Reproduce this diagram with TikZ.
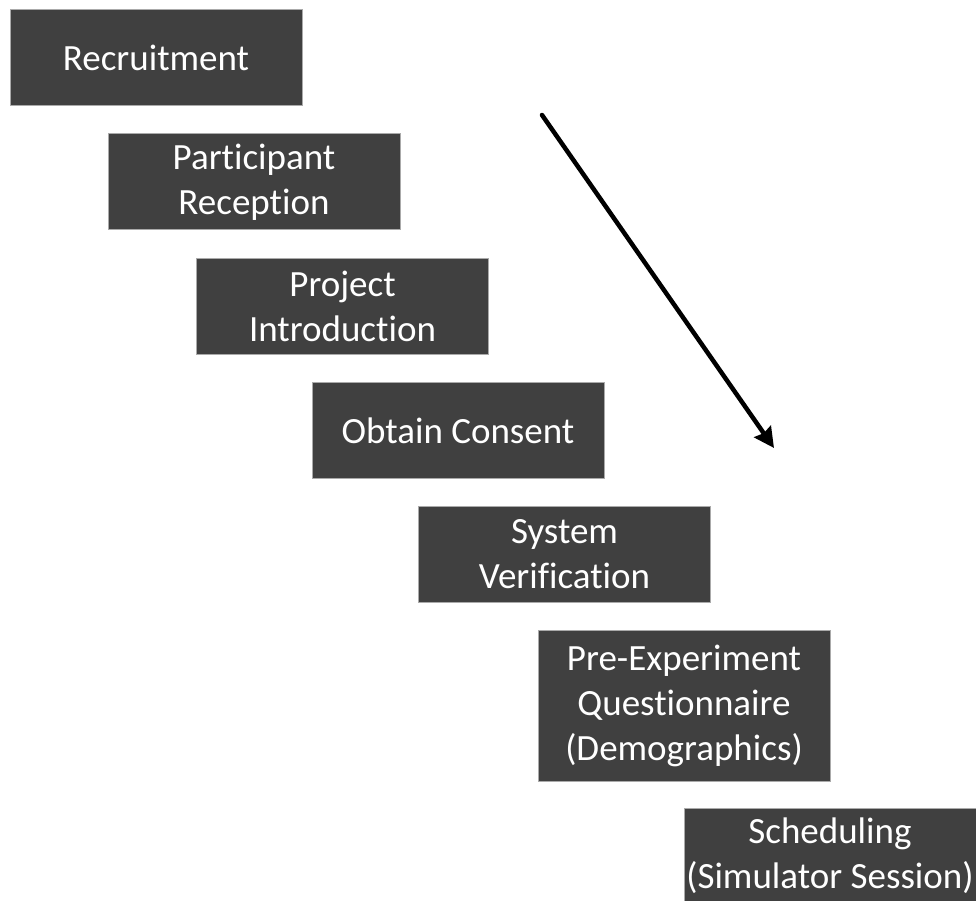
\documentclass[tikz,border=0pt]{standalone}
\usepackage{fontspec}
\setmainfont[Ligatures={NoCommon}]{Carlito}
\usetikzlibrary{arrows.meta}
\definecolor{boxfill}{RGB}{64,64,64}
\definecolor{boxline}{RGB}{170,170,170}
\tikzset{
  stepbox/.style={rectangle, fill=boxfill, draw=boxline, line width=1pt,
    text=white, align=center, inner sep=0pt,
    minimum width=292pt, minimum height=96pt,
    font=\fontsize{37}{45}\selectfont},
  flowarrow/.style={line width=4.5pt, -{Stealth[length=20pt,width=20pt,inset=2pt]}}
}
\begin{document}
\begin{tikzpicture}[x=1pt,y=-1pt]
\useasboundingbox (0,0) rectangle (976,901);
\begin{scope}
\clip (0,0) rectangle (976,901);
\node[stepbox] (rec) at (156,58) {Recruitment};
\node[stepbox] (par) at (254,182) {Participant\\Reception};
\node[stepbox] (pro) at (342.5,306.5) {Project\\Introduction};
\node[stepbox] (obt) at (458,430.5) {Obtain Consent};
\node[stepbox] (sys) at (564.5,554.5) {System\\Verification};
\node[stepbox, minimum height=151pt] (pre) at (684,705.5) {Pre-Experiment\\Questionnaire\\(Demographics)};
\node[stepbox] (sch) at (830,856) {Scheduling\\(Simulator Session)};
\coordinate (as) at (542,115);
\coordinate (ae) at (774,448);
\draw[flowarrow, line cap=round] (as) -- (ae);
\end{scope}
\end{tikzpicture}
\end{document}
